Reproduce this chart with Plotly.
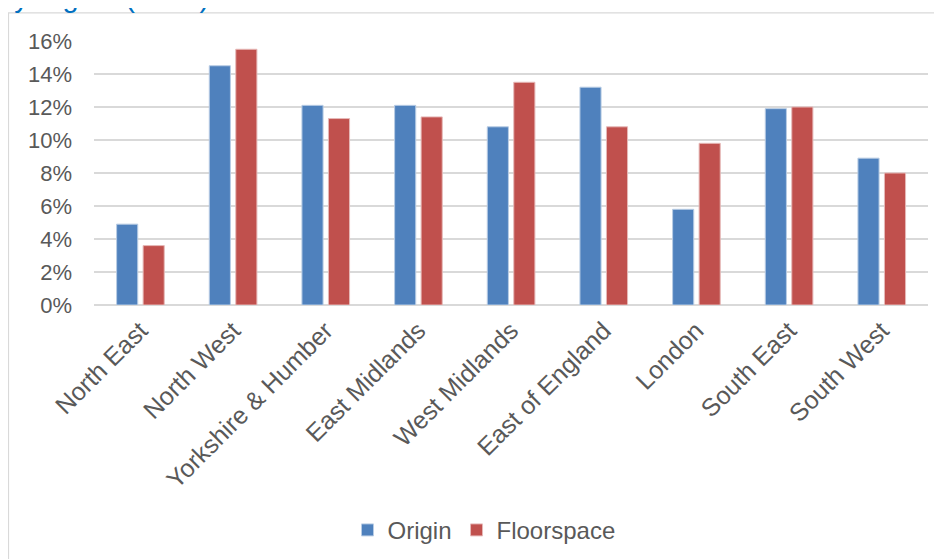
import plotly.graph_objects as go

regions = ["North East", "North West", "Yorkshire & Humber", "East Midlands",
           "West Midlands", "East of England", "London", "South East", "South West"]
origin = [4.9, 14.5, 12.1, 12.1, 10.8, 13.2, 5.8, 11.9, 8.9]
floorspace = [3.6, 15.5, 11.3, 11.4, 13.5, 10.8, 9.8, 12.0, 8.0]
y_ticks = [0, 2, 4, 6, 8, 10, 12, 14, 16]
y_tick_labels = [f"{v}%" for v in y_ticks]

W, H = 942, 559
OFF = 8  # page body margin
# plot area in window pixels
PX0, PX1 = 94, 928
PY0, PY1 = 40.7, 304.7
L = PX0 - OFF
R = W - (PX1 - OFF)
T = PY0 - OFF
B = H - (PY1 - OFF)
plot_w = PX1 - PX0
plot_h = PY1 - PY0

def px_to_paper_x(wx):
    return (wx - PX0) / plot_w

def px_to_paper_y(wy):
    return (PY1 - wy) / plot_h

FONT = "Liberation Sans, Arial, sans-serif"
TXT = "#595959"

fig = go.Figure()
fig.add_trace(go.Bar(
    x=regions, y=origin, name="Origin",
    marker=dict(color="#4F81BD", line=dict(color="#B8CCE4", width=1)),
    width=0.228, offset=-0.256,
))
fig.add_trace(go.Bar(
    x=regions, y=floorspace, name="Floorspace",
    marker=dict(color="#C0504D", line=dict(color="#E6B9B8", width=1)),
    width=0.228, offset=0.030,
))

fig.update_layout(
    width=W, height=H,
    margin=dict(l=L, r=R, t=T, b=B, pad=0, autoexpand=False),
    paper_bgcolor="white", plot_bgcolor="white",
    barmode="overlay",
    font=dict(family=FONT, color=TXT, size=22),
    showlegend=True,
    legend=dict(
        orientation="h", x=px_to_paper_x(484), xanchor="center",
        y=px_to_paper_y(530), yanchor="middle",
        font=dict(size=24, color=TXT, family=FONT),
        bgcolor="rgba(0,0,0,0)", itemwidth=30, tracegroupgap=0,
    ),
    xaxis=dict(
        type="category", categoryorder="array", categoryarray=regions,
        range=[-0.5, len(regions) - 0.5], automargin=False,
        tickangle=-45, showgrid=False, showline=False, zeroline=False,
        ticks="", ticklabelstandoff=5,
        tickfont=dict(size=25, color=TXT, family=FONT),
    ),
    yaxis=dict(
        range=[0, 16], tickvals=y_ticks, ticktext=y_tick_labels, automargin=False,
        showgrid=True, gridcolor="#D9D9D9", gridwidth=1.5,
        zeroline=True, zerolinecolor="#D9D9D9", zerolinewidth=1.5,
        showline=False, ticks="", ticklabelstandoff=21,
        tickfont=dict(size=22, color=TXT, family=FONT),
    ),
)

# chart area border (extends beyond the visible window on the right and bottom)
fig.add_shape(
    type="rect", xref="paper", yref="paper",
    x0=px_to_paper_x(8.5), x1=px_to_paper_x(W + 40),
    y0=px_to_paper_y(H + 40), y1=px_to_paper_y(12.5),
    line=dict(color="#D9D9D9", width=1.2), fillcolor="rgba(0,0,0,0)", layer="below",
)

# clipped title at top
fig.add_annotation(
    text="by region (2014)", xref="paper", yref="paper",
    x=px_to_paper_x(211), xanchor="right",
    y=px_to_paper_y(15), yanchor="bottom",
    showarrow=False, font=dict(size=29, color="#0070C0", family=FONT),
)

fig.write_html("out.html")
